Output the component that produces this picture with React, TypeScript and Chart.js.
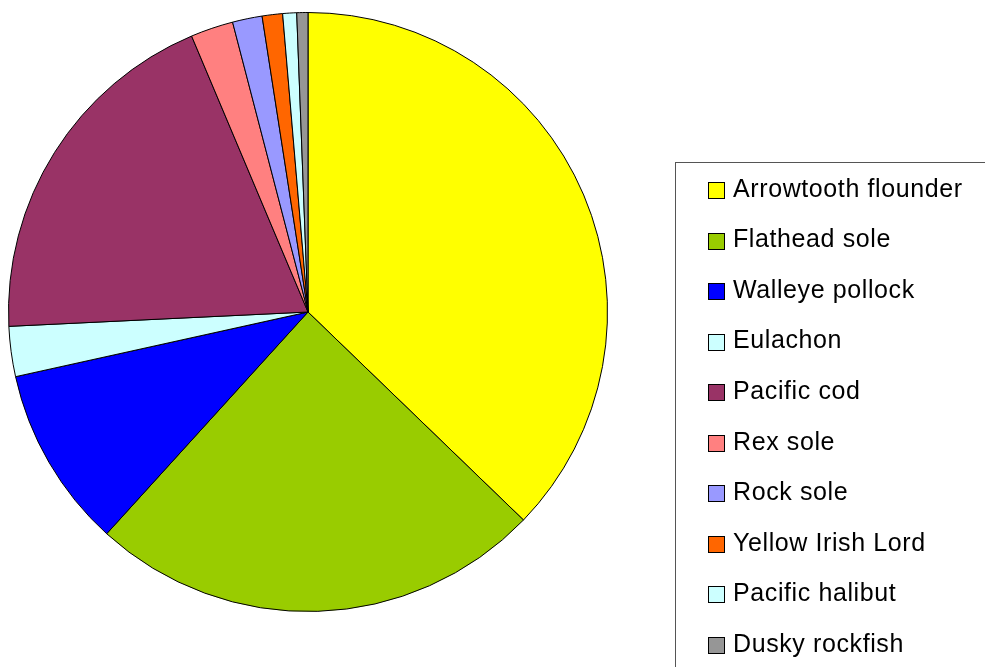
import { useEffect, useRef } from "react";
import { Chart, registerables } from "chart.js";

Chart.register(...registerables);

const species = [
  "Arrowtooth flounder",
  "Flathead sole",
  "Walleye pollock",
  "Eulachon",
  "Pacific cod",
  "Rex sole",
  "Rock sole",
  "Yellow Irish Lord",
  "Pacific halibut",
  "Dusky rockfish",
];

const shares = [37.2, 24.5, 9.8, 2.7, 19.4, 2.3, 1.6, 1.1, 0.75, 0.6];

const colors = [
  "#FFFF00",
  "#99CC00",
  "#0000FF",
  "#CCFFFF",
  "#993366",
  "#FF8080",
  "#9999FF",
  "#FF6600",
  "#CCFFFF",
  "#969696",
];

const boxLegend = {
  id: "boxLegend",
  afterDraw(chart: any) {
    const ctx = chart.ctx as CanvasRenderingContext2D;
    const labels = chart.data.labels as string[];
    const bg = chart.data.datasets[0].backgroundColor as string[];
    ctx.save();
    ctx.strokeStyle = "#555555";
    ctx.lineWidth = 1;
    ctx.strokeRect(675.5, 162.5, 400, 600);
    ctx.font = "25px 'Liberation Sans', Arial, sans-serif";
    (ctx as any).letterSpacing = "0.6px";
    ctx.textBaseline = "alphabetic";
    ctx.textAlign = "left";
    labels.forEach((lab, i) => {
      const cy = 190.5 + i * 50.56;
      ctx.fillStyle = bg[i];
      ctx.fillRect(708, Math.round(cy - 8.5), 17, 17);
      ctx.strokeStyle = "#000000";
      ctx.strokeRect(708.5, Math.round(cy - 8.5) + 0.5, 16, 16);
      ctx.fillStyle = "#000000";
      ctx.fillText(lab, 733, cy + 6.2);
    });
    ctx.restore();
  },
};

export default function App() {
  const ref = useRef<HTMLCanvasElement>(null);
  useEffect(() => {
    if (!ref.current) return;
    const chart = new Chart(ref.current, {
      type: "pie",
      data: {
        labels: species,
        datasets: [
          {
            data: shares,
            backgroundColor: colors,
            borderColor: "#000000",
            borderWidth: 1,
            hoverOffset: 0,
          },
        ],
      },
      options: {
        responsive: false,
        animation: false,
        layout: { padding: { left: 8, top: 12, right: 377, bottom: 55 } },
        plugins: {
          legend: { display: false },
          tooltip: { enabled: false },
        },
      },
      plugins: [boxLegend],
    });
    return () => chart.destroy();
  }, []);
  return (
    <div style={{ position: "fixed", left: 0, top: 0, width: 985, height: 667, background: "#fff" }}>
      <canvas ref={ref} width={985} height={667} style={{ display: "block", width: 985, height: 667 }} />
    </div>
  );
}
